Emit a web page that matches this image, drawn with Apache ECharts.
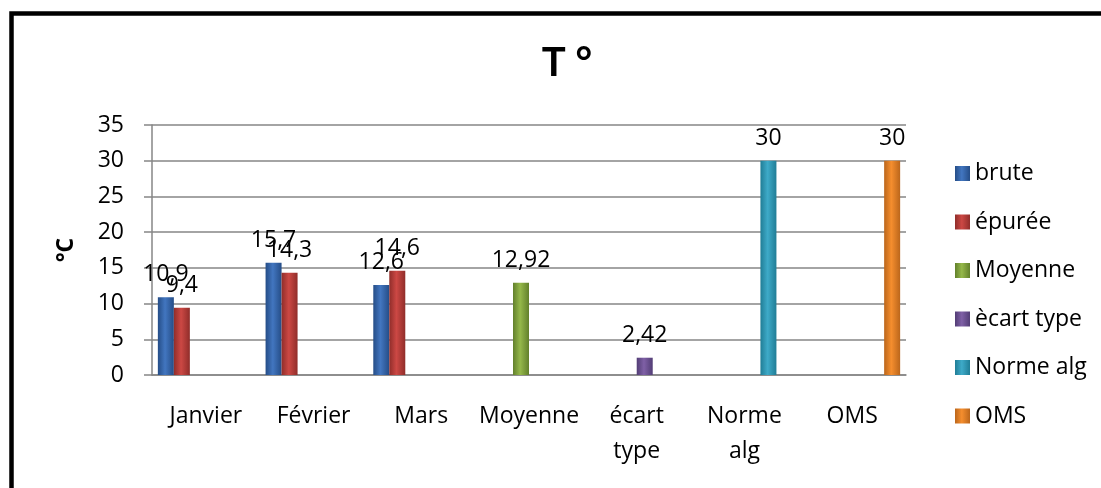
<!DOCTYPE html>
<html>
<head>
<meta charset="utf-8">
<script src="https://cdn.jsdelivr.net/npm/echarts@6/dist/echarts.min.js"></script>
<style>
  html, body { margin: 0; padding: 0; background: #fff; }
  #chart { width: 1101px; height: 488px; }
</style>
</head>
<body>
<div id="chart"></div>
<script>
// categories on the x axis
var categories = ['Janvier', 'Février', 'Mars', 'Moyenne', 'écart\ntype', 'Norme\nalg', 'OMS']
var seriesNames = ['brute', 'épurée', 'Moyenne', 'ècart type', 'Norme alg', 'OMS']
// one list per series, null where the series has no bar
var brute = [10.9, 15.7, 12.6, null, null, null, null]
var epuree = [9.4, 14.3, 14.6, null, null, null, null]
var moyenne = [null, null, null, 12.92, null, null, null]
var ecartType = [null, null, null, null, 2.42, null, null]
var normeAlg = [null, null, null, null, null, 30, null]
var oms = [null, null, null, null, null, null, 30]
var yTicks = [0, 5, 10, 15, 20, 25, 30, 35]

var seriesData = [brute, epuree, moyenne, ecartType, normeAlg, oms]
// dark edge / light middle, a bit like the excel bevel
var palette = [
  ['#254d87', '#4276c0'],
  ['#902d2a', '#cc4844'],
  ['#62802b', '#95b84a'],
  ['#523d75', '#7f60a6'],
  ['#207d96', '#3eaac8'],
  ['#bb661b', '#f58e2e']
]
var font = '"Open Sans", "Noto Sans", sans-serif'

function grad(c) {
  return new echarts.graphic.LinearGradient(0, 0, 1, 0, [
    { offset: 0, color: c[0] },
    { offset: 0.45, color: c[1] },
    { offset: 1, color: c[0] }
  ])
}

var chart = echarts.init(document.getElementById('chart'))
chart.setOption({
  animation: false,
  title: {
    text: 'T °',
    left: 562,
    textAlign: 'center',
    top: 38,
    textStyle: { fontFamily: 'Lato, sans-serif', fontSize: 40, fontWeight: 'bold', color: '#000' }
  },
  legend: {
    orient: 'vertical',
    left: 950,
    top: 157,
    itemWidth: 15,
    itemHeight: 15,
    itemGap: 25.5,
    icon: 'rect',
    data: seriesNames,
    textStyle: { fontFamily: font, fontSize: 23, color: '#000', lineHeight: 23 }
  },
  grid: { left: 152, right: 195, top: 125, bottom: 113 },
  graphic: [{
    type: 'rect',
    shape: { x: 11.5, y: 13.5, width: 1200, height: 600 },
    style: { fill: 'none', stroke: '#000', lineWidth: 4.5 },
    silent: true
  }],
  xAxis: {
    type: 'category',
    data: categories,
    axisLine: { lineStyle: { color: '#868686', width: 1.5 } },
    axisTick: { show: false },
    axisLabel: {
      interval: 0,
      margin: 24,
      fontFamily: font,
      fontSize: 23,
      lineHeight: 35,
      color: '#000'
    }
  },
  yAxis: {
    type: 'value',
    min: yTicks[0],
    max: yTicks[yTicks.length - 1],
    interval: 5,
    name: '°C',
    nameLocation: 'middle',
    nameRotate: 90,
    nameGap: 74,
    nameTextStyle: { fontFamily: font, fontSize: 23, fontWeight: 'bold', color: '#000' },
    axisLine: { show: true, lineStyle: { color: '#868686', width: 1.5 } },
    axisTick: { show: true, length: 8, lineStyle: { color: '#868686', width: 1.5 } },
    splitLine: { lineStyle: { color: '#868686', width: 1.5 } },
    axisLabel: { margin: 28, fontFamily: font, fontSize: 23, color: '#000' }
  },
  series: seriesData.map(function (d, i) {
    return {
      name: seriesNames[i],
      type: 'bar',
      data: d,
      barWidth: 16,
      barGap: '0%',
      itemStyle: { color: grad(palette[i]) },
      label: {
        show: true,
        position: 'top',
        distance: 11,
        fontFamily: font,
        fontSize: 23,
        color: '#000',
        formatter: function (p) { return String(p.value).replace('.', ',') }
      }
    }
  })
})
</script>
</body>
</html>
